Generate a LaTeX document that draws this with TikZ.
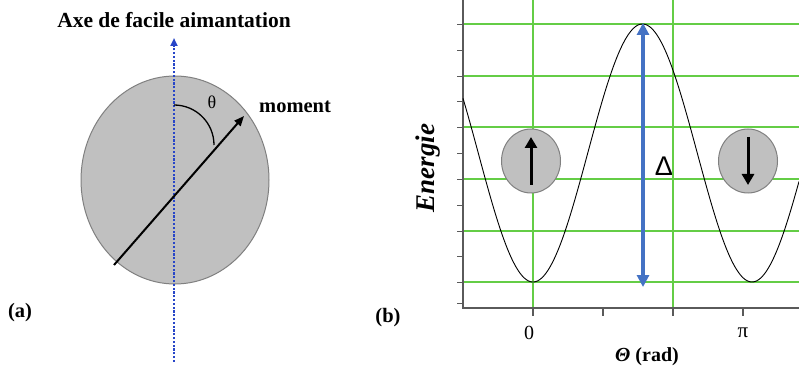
\documentclass[tikz,border=0pt]{standalone}
\usepackage{fontspec}
\setmainfont{Liberation Serif}
\newfontfamily\sansf{Liberation Sans}
\usetikzlibrary{arrows.meta,shapes.geometric}
\definecolor{ellgray}{RGB}{192,192,192}
\definecolor{ellborder}{RGB}{128,128,128}
\definecolor{gridgreen}{RGB}{100,205,70}
\definecolor{axisblue}{RGB}{40,70,200}
\definecolor{deltablue}{RGB}{68,114,196}
\definecolor{axisgray}{RGB}{90,90,90}
\begin{document}
\begin{tikzpicture}[x=1pt,y=-1pt,
  lbl/.style={inner sep=0pt,font=\bfseries\fontsize{20.5}{22}\selectfont},
  disk/.style={fill=ellgray,draw=ellborder,line width=1pt},
  gridl/.style={draw=gridgreen,line width=1.2pt},
  axisl/.style={draw=axisgray,line width=1.3pt},
  spin/.style={line width=3pt,-{Triangle[length=11pt,width=12pt]}}]
\useasboundingbox (0,0) rectangle (799,371);
% ---------- panel (a) ----------
\node[lbl,font=\bfseries\fontsize{21.5}{24}\selectfont] (title) at (174,20) {Axe de facile aimantation};
\draw[disk] (175,180) ellipse [x radius=94, y radius=104];
\coordinate (axbot) at (174,362);
\coordinate (axtop) at (174,38);
\draw[axisblue,line width=2.6pt,dash pattern=on 2.2pt off 1.6pt,
  -{Triangle[length=8pt,width=7pt]}] (axbot) -- (axtop);
\coordinate (mstart) at (114,265);
\coordinate (mend) at (244,116);
\draw[line width=2pt,-{Triangle[length=10pt,width=8pt]}] (mstart) -- (mend);
\draw[line width=1.3pt] (174,105) arc[start angle=-90,end angle=0,radius=40];
\node[inner sep=0pt,font=\fontsize{18}{20}\selectfont] (theta) at (212,102) {θ};
\node[lbl,anchor=west] (moment) at (259,107) {moment};
\node[lbl] (la) at (20,313) {(a)};
\node[lbl] (lb) at (388,318) {(b)};
% ---------- panel (b) ----------
\foreach \y in {24,76,127,179,231,282}
  \draw[gridl] (463,\y) -- (799,\y);
\foreach \x in {533,673}
  \draw[gridl] (\x,0) -- (\x,308);
% axes
\draw[axisl] (463,0) -- (463,309);
\draw[axisl] (462,308) -- (799,308);
\foreach \y in {24,50,76,101,127,153,179,205,231,256,282,303}
  \draw[axisgray,line width=0.8pt] (457,\y) -- (463,\y);
\foreach \x in {533,603,673,743}
  \draw[axisgray,line width=1.2pt] (\x,308) -- (\x,316);
% curve
\draw[black,line width=0.9pt,domain=463:799,samples=200,smooth]
  plot (\x,{153+129*cos(1.6438*(\x-533))});
% delta arrow
\coordinate (dtop) at (643,23);
\coordinate (dbot) at (643,287);
\draw[deltablue,line width=4pt,{Triangle[length=12pt,width=12pt]}-{Triangle[length=12pt,width=12pt]}] (dbot) -- (dtop);
\node[inner sep=0pt,font=\sansf\fontsize{27}{28}\selectfont] (delta) at (664,166) {Δ};
% spin disks
\node[disk,ellipse,minimum width=59pt,minimum height=64pt,inner sep=0pt] (up) at (531,161) {};
\node[disk,ellipse,minimum width=59pt,minimum height=64pt,inner sep=0pt] (down) at (748,161) {};
\draw[spin] (531,185) -- (531,137);
\draw[spin] (748,137) -- (748,185);
% labels
\node[inner sep=0pt,rotate=90,font=\bfseries\itshape\fontsize{27}{28}\selectfont] (energie) at (428,168) {Energie};
\node[inner sep=0pt,font=\fontsize{20}{20}\selectfont] (zero) at (529,333) {0};
\node[inner sep=0pt,font=\fontsize{21}{20}\selectfont] (pi) at (743,333) {π};
\node[inner sep=0pt,font=\bfseries\fontsize{20}{22}\selectfont] (xlab) at (647,357) {\textit{Θ} (rad)};
\end{tikzpicture}
\end{document}
